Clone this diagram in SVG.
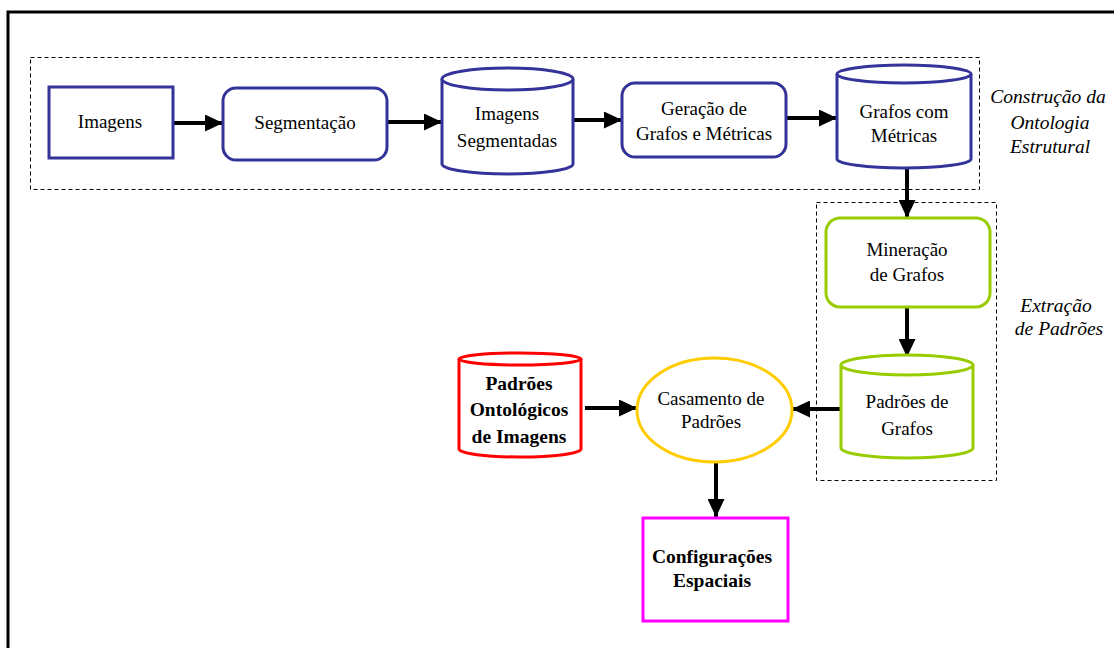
<svg xmlns="http://www.w3.org/2000/svg" width="1114" height="648" viewBox="0 0 1114 648">
  <style>
    .lbl { font-family: "Liberation Serif", "DejaVu Serif", serif; font-size: 19px; fill: #000; text-anchor: middle; }
    .bold { font-weight: bold; font-size: 19.5px; }
    .ital { font-style: italic; font-size: 19.5px; }
    .blue { fill: #fff; stroke: #333399; stroke-width: 3; }
    .green { fill: #fff; stroke: #99cc00; stroke-width: 3; }
    .red { fill: #fff; stroke: #ff0000; stroke-width: 3; }
    .yellow { fill: #fff; stroke: #ffcc00; stroke-width: 3; }
    .magenta { fill: #fff; stroke: #ff00ff; stroke-width: 3; }
    .group { fill: none; stroke: #000; stroke-width: 1; stroke-dasharray: 4 3; }
    .edge { fill: none; stroke: #000; stroke-width: 4; marker-end: url(#head); }
  </style>
  <defs>
    <marker id="head" markerUnits="userSpaceOnUse" markerWidth="19" markerHeight="17" refX="18" refY="8.5" orient="auto">
      <path d="M0,0 L18,8.5 L0,17 Z" fill="#000"/>
    </marker>
  </defs>

  <rect x="0" y="0" width="1114" height="648" fill="#fff"/>
  <!-- outer frame -->
  <rect x="8" y="12" width="1110" height="645" fill="none" stroke="#000" stroke-width="3"/>

  <!-- stage groupings -->
  <g id="stage-construcao">
    <rect class="group" x="30.5" y="57.5" width="949" height="132"/>
    <text class="lbl ital" x="1048" y="103">Construção da</text>
    <text class="lbl ital" x="1050" y="129">Ontologia</text>
    <text class="lbl ital" x="1050" y="153">Estrutural</text>
  </g>
  <g id="stage-extracao">
    <rect class="group" x="816.5" y="202.5" width="180" height="278"/>
    <text class="lbl ital" x="1056" y="312">Extração</text>
    <text class="lbl ital" x="1059" y="335">de Padrões</text>
  </g>

  <!-- connectors -->
  <g id="connectors">
    <line class="edge" x1="173" y1="123" x2="223" y2="123"/>
    <line class="edge" x1="387" y1="122" x2="442" y2="122"/>
    <line class="edge" x1="573" y1="120" x2="622" y2="120"/>
    <line class="edge" x1="786" y1="118" x2="837" y2="118"/>
    <line class="edge" x1="907" y1="168" x2="907" y2="218"/>
    <line class="edge" x1="907" y1="307" x2="907" y2="357"/>
    <line class="edge" x1="841" y1="409" x2="792" y2="409"/>
    <line class="edge" x1="585" y1="408" x2="637" y2="408"/>
    <line class="edge" x1="716" y1="462" x2="716" y2="517"/>
  </g>

  <g id="imagens">
    <rect class="blue" x="49" y="87" width="124" height="71"/>
    <text class="lbl" x="110" y="128">Imagens</text>
  </g>

  <g id="segmentacao">
    <rect class="blue" x="223" y="88" width="164" height="72" rx="13"/>
    <text class="lbl" x="305" y="129">Segmentação</text>
  </g>

  <g id="imagens-segmentadas">
    <path class="blue" d="M442,79 A65.5,11 0 0 1 573,79 L573,164 A65.5,10 0 0 1 442,164 Z"/>
    <path class="blue" d="M442,79 A65.5,11 0 0 0 573,79"/>
    <text class="lbl" x="507" y="120">Imagens</text>
    <text class="lbl" x="507" y="147">Segmentadas</text>
  </g>

  <g id="geracao-grafos">
    <rect class="blue" x="622" y="83" width="164" height="74" rx="13"/>
    <text class="lbl" x="704" y="115">Geração de</text>
    <text class="lbl" x="704" y="140">Grafos e Métricas</text>
  </g>

  <g id="grafos-metricas">
    <path class="blue" d="M837,74 A67,9 0 0 1 971,74 L971,159 A67,9 0 0 1 837,159 Z"/>
    <path class="blue" d="M837,74 A67,9 0 0 0 971,74"/>
    <text class="lbl" x="904" y="118">Grafos com</text>
    <text class="lbl" x="904" y="142">Métricas</text>
  </g>

  <g id="mineracao-grafos">
    <rect class="green" x="826" y="218" width="164" height="89" rx="14"/>
    <text class="lbl" x="907" y="256">Mineração</text>
    <text class="lbl" x="907" y="281">de Grafos</text>
  </g>

  <g id="padroes-grafos">
    <path class="green" d="M841,365 A66,10 0 0 1 973,365 L973,448 A66,10 0 0 1 841,448 Z"/>
    <path class="green" d="M841,365 A66,10 0 0 0 973,365"/>
    <text class="lbl" x="907" y="408">Padrões de</text>
    <text class="lbl" x="907" y="435">Grafos</text>
  </g>

  <g id="casamento-padroes">
    <ellipse class="yellow" cx="714.5" cy="410" rx="77.5" ry="52"/>
    <text class="lbl" x="711" y="405">Casamento de</text>
    <text class="lbl" x="711" y="428">Padrões</text>
  </g>

  <g id="padroes-ontologicos">
    <path class="red" d="M459,359 A61,6 0 0 1 581,359 L581,449 A61,8 0 0 1 459,449 Z"/>
    <path class="red" d="M459,359 A61,6 0 0 0 581,359"/>
    <text class="lbl bold" x="519" y="390">Padrões</text>
    <text class="lbl bold" x="519" y="416">Ontológicos</text>
    <text class="lbl bold" x="519" y="443">de Imagens</text>
  </g>

  <g id="configuracoes-espaciais">
    <rect class="magenta" x="643" y="518" width="145" height="103"/>
    <text class="lbl bold" x="712" y="563">Configurações</text>
    <text class="lbl bold" x="712" y="587">Espaciais</text>
  </g>
</svg>
